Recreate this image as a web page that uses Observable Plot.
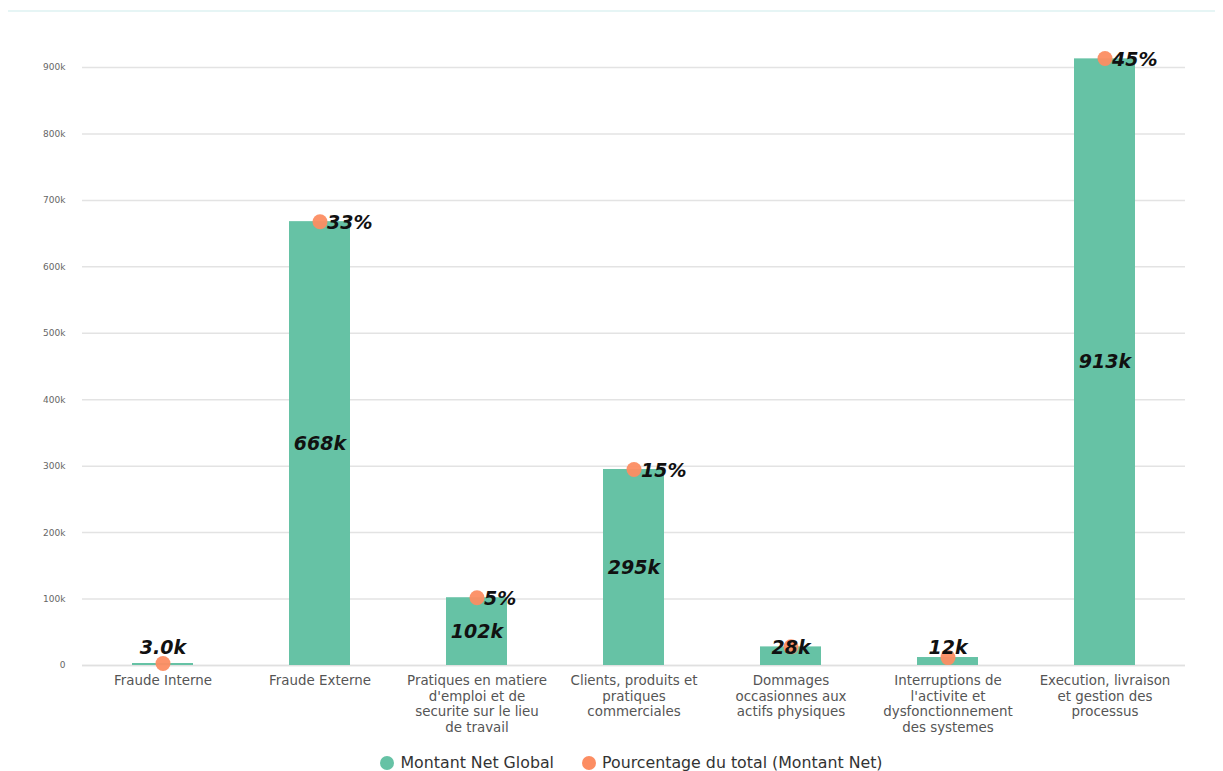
<!DOCTYPE html>
<html>
<head>
<meta charset="utf-8">
<script src="https://cdn.jsdelivr.net/npm/d3@7"></script>
<script src="https://cdn.jsdelivr.net/npm/@observablehq/plot@0.6"></script>
<style>
  html, body { margin: 0; padding: 0; background: #fff; }
  body { width: 1223px; height: 771px; position: relative; overflow: hidden; font-family: "DejaVu Sans", sans-serif; }
  #topline { position: absolute; left: 8px; right: 8px; top: 10px; height: 0; border-top: 2px solid #e6f5f5; }
  #chart { position: absolute; left: 0; top: 0; }
  #legend { position: absolute; top: 753px; left: 0; width: 1223px; display: flex; justify-content: center; gap: 28px; font-size: 15.8px; color: #333; padding-left: 40px; box-sizing: border-box; }
  .item { display: flex; align-items: center; gap: 6px; }
  .sw { width: 14px; height: 14px; border-radius: 50%; display: inline-block; }
</style>
</head>
<body>
<div id="topline"></div>
<div id="chart"></div>
<div id="legend"></div>
<script>
const categories = [
  "Fraude Interne",
  "Fraude Externe",
  "Pratiques en matiere d'emploi et de securite sur le lieu de travail",
  "Clients, produits et pratiques commerciales",
  "Dommages occasionnes aux actifs physiques",
  "Interruptions de l'activite et dysfonctionnement des systemes",
  "Execution, livraison et gestion des processus"
];
const tickLabels = [
  "Fraude Interne",
  "Fraude Externe",
  "Pratiques en matiere\nd'emploi et de\nsecurite sur le lieu\nde travail",
  "Clients, produits et\npratiques\ncommerciales",
  "Dommages\noccasionnes aux\nactifs physiques",
  "Interruptions de\nl'activite et\ndysfonctionnement\ndes systemes",
  "Execution, livraison\net gestion des\nprocessus"
];
const montant = [3000, 668000, 102000, 295000, 28000, 12000, 913000];
const valueLabels = ["3.0k", "668k", "102k", "295k", "28k", "12k", "913k"];
const pourcentage = [0.15, 33.05, 5.05, 14.6, 1.39, 0.59, 45.2];
const pctLabels = ["", "33%", "5%", "15%", "", "", "45%"];
const yTicks = [0, 100000, 200000, 300000, 400000, 500000, 600000, 700000, 800000, 900000];
const seriesNames = ["Montant Net Global", "Pourcentage du total (Montant Net)"];
const seriesColors = ["#66c2a5", "#fc8d62"];

const total = d3.sum(montant);
const rows = categories.map((c, i) => ({
  cat: c,
  value: montant[i],
  label: valueLabels[i],
  labelY: Math.max(montant[i] / 2, 26000),
  pctY: pourcentage[i] / 100 * total,
  pctLabel: pctLabels[i]
}));

const chart = Plot.plot({
  width: 1223,
  height: 745,
  marginLeft: 82,
  marginRight: 38,
  marginTop: 67,
  marginBottom: 80,
  style: { fontFamily: "DejaVu Sans, sans-serif", background: "transparent", overflow: "visible" },
  x: { domain: categories, paddingInner: 0.61, paddingOuter: 0.305, label: null },
  y: { domain: [0, 900000], label: null },
  marks: [
    Plot.gridY(yTicks, { stroke: "#e3e3e3", strokeOpacity: 1, strokeWidth: 1.5 }),
    Plot.ruleY([0], { stroke: "#e0e0e0", strokeWidth: 1.5 }),
    Plot.axisY(yTicks, {
      tickSize: 0, tickPadding: 17, fontSize: 9, fill: "#666",
      tickFormat: d => d === 0 ? "0" : (d / 1000) + "k"
    }),
    Plot.axisX({
      tickSize: 0, tickPadding: 9, fontSize: 13.4, fill: "#555", lineHeight: 1.15,
      tickFormat: d => tickLabels[categories.indexOf(d)]
    }),
    Plot.barY(rows, { x: "cat", y: "value", fill: seriesColors[0] }),
    Plot.dot(rows, { x: "cat", y: "pctY", r: 7.5, fill: seriesColors[1], fillOpacity: 0.95 }),
    Plot.text(rows, {
      x: "cat", y: "labelY", text: "label", fontSize: 19, fontWeight: "bold",
      fontStyle: "italic", fill: "#111"
    }),
    Plot.text(rows.filter(d => d.pctLabel), {
      x: "cat", y: "pctY", text: "pctLabel", fontSize: 19, fontWeight: "bold",
      fontStyle: "italic", fill: "#111", textAnchor: "start", dx: 7, dy: 1
    })
  ]
});
document.getElementById("chart").appendChild(chart);

const legend = document.getElementById("legend");
seriesNames.forEach((name, i) => {
  const item = document.createElement("div");
  item.className = "item";
  const sw = document.createElement("span");
  sw.className = "sw";
  sw.style.background = seriesColors[i];
  item.appendChild(sw);
  const t = document.createElement("span");
  t.textContent = name;
  item.appendChild(t);
  legend.appendChild(item);
});
</script>
</body>
</html>
